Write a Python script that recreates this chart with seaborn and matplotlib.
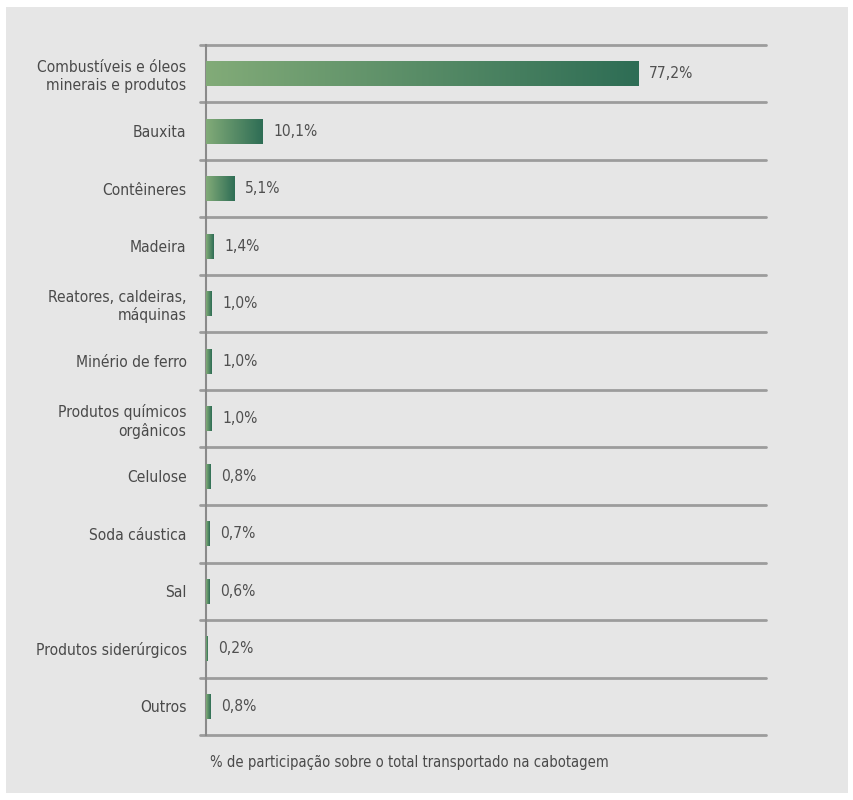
import numpy as np
import pandas as pd
import matplotlib
matplotlib.use("Agg")
import matplotlib.pyplot as plt
from matplotlib import font_manager
from matplotlib.colors import LinearSegmentedColormap
from matplotlib.patches import Rectangle
import seaborn as sns

# dados
categorias = [
    "Combustíveis e óleos\nminerais e produtos",
    "Bauxita",
    "Contêineres",
    "Madeira",
    "Reatores, caldeiras,\nmáquinas",
    "Minério de ferro",
    "Produtos químicos\norgânicos",
    "Celulose",
    "Soda cáustica",
    "Sal",
    "Produtos siderúrgicos",
    "Outros",
]
valores = [77.2, 10.1, 5.1, 1.4, 1.0, 1.0, 1.0, 0.8, 0.7, 0.6, 0.2, 0.8]
rotulo_x = "% de participação sobre o total transportado na cabotagem"

df = pd.DataFrame({"categoria": categorias, "valor": valores})

sns.set_style("white")

# procura uma fonte estreita; senão usa DejaVu Sans menor
fontes = {(f.name, f.stretch) for f in font_manager.fontManager.ttflist}
stretch = "normal"
if any(n == "Liberation Sans Narrow" for n, _ in fontes):
    familia, tam = "Liberation Sans Narrow", 12
elif any(n == "DejaVu Sans" and s == "condensed" for n, s in fontes):
    familia, tam, stretch = "DejaVu Sans", 11.2, "condensed"
else:
    familia, tam = "DejaVu Sans", 10
plt.rcParams["font.family"] = [familia, "DejaVu Sans"]
plt.rcParams["font.stretch"] = stretch

fig = plt.figure(figsize=(8.54, 8.0), dpi=100)
fig.patch.set_facecolor("white")
# painel cinza de fundo
fig.add_artist(Rectangle((6 / 854, 7 / 800), 842 / 854, 786 / 800,
                         transform=fig.transFigure, facecolor="#e6e6e6",
                         edgecolor="none", zorder=0))

ax = fig.add_axes([206 / 854, 1 - 735 / 800, 560 / 854, 690 / 800])
ax.set_facecolor("none")

sns.barplot(data=df, y="categoria", x="valor", orient="h", ax=ax,
            color="#4f8a62", width=0.44, edgecolor="none", saturation=1)

# degradê nas barras
cmap = LinearSegmentedColormap.from_list("verde", ["#82ab78", "#2e6d55"])
grad = np.linspace(0, 1, 256).reshape(1, -1)
for p in ax.patches:
    x0, y0 = p.get_x(), p.get_y()
    w, h = p.get_width(), p.get_height()
    im = ax.imshow(grad, cmap=cmap, aspect="auto", extent=(x0, x0 + w, y0 + h, y0),
                   zorder=3)
    im.set_clip_path(p)
    p.set_facecolor("#3f7d5c")

ax.set_xlim(0, 100)
ax.set_ylim(len(categorias) - 0.5, -0.5)

# linhas separadoras
for yy in np.arange(-0.5, len(categorias), 1.0):
    ax.plot([-1.1, 100], [yy, yy], color="#9c9c9c", lw=2, clip_on=False, zorder=1)

for s in ["top", "right", "bottom"]:
    ax.spines[s].set_visible(False)
ax.spines["left"].set_color("#8a8a8a")
ax.spines["left"].set_linewidth(1.5)

ax.set_xticks([])
ax.set_xlabel("")
ax.set_ylabel("")
ax.tick_params(axis="y", length=0, pad=14, labelsize=tam, labelcolor="#4a4a4a")
for t in ax.get_yticklabels():
    t.set_horizontalalignment("right")
    t.set_multialignment("right")

for i, v in enumerate(valores):
    ax.text(v + 1.9, i, f"{v:.1f}%".replace(".", ","), va="center", ha="left",
            fontsize=tam, color="#505050")

fig.text(210 / 854, 1 - 762 / 800, rotulo_x, ha="left", va="center",
         fontsize=tam * 0.95, color="#4a4a4a")

fig.savefig("out.png", dpi=100)
